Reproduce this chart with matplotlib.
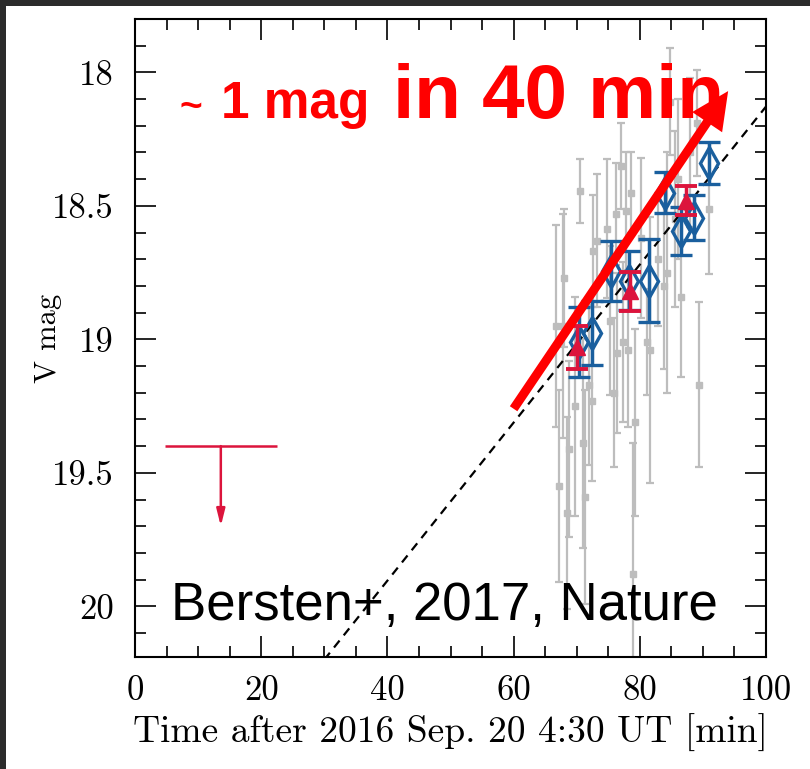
import matplotlib
matplotlib.use('Agg')
import matplotlib.pyplot as plt
from matplotlib.patches import Rectangle, FancyArrowPatch
from matplotlib.ticker import MultipleLocator
import numpy as np

# photometry (time in min, V mag, 1-sigma error)
gray_t = [66.7, 67.8, 67.2, 68.0, 68.4, 68.8, 69.7, 70.5, 71.0, 71.3, 72.0, 72.4,
          72.6, 73.2, 74.8, 75.3, 75.9, 76.3, 76.4, 77.0, 77.3, 77.8, 78.2, 78.6,
          79.0, 79.3, 80.2, 81.1, 81.6, 82.9, 83.9, 84.3, 84.8, 85.6, 86.0, 86.6,
          87.9, 89.0, 89.4, 91.0]
gray_mag = [18.95, 18.95, 19.55, 18.77, 19.65, 19.41, 19.25, 18.445, 19.39, 19.59, 19.17, 19.23,
            18.67, 18.63, 18.585, 18.93, 19.20, 18.53, 19.05, 18.35, 19.01, 18.52, 19.04, 18.45,
            19.88, 19.31, 18.62, 19.01, 19.04, 18.70, 18.80, 18.75, 18.11, 18.55, 18.40, 18.84,
            18.30, 18.19, 19.17, 18.51]
gray_err = [0.38, 0.42, 0.36, 0.26, 0.36, 0.33, 0.41, 0.12, 0.39, 0.40, 0.30, 0.30,
            0.21, 0.25, 0.26, 0.28, 0.28, 0.19, 0.30, 0.16, 0.30, 0.22, 0.29, 0.15,
            0.49, 0.35, 0.30, 0.20, 0.50, 0.25, 0.31, 0.45, 0.20, 0.33, 0.30, 0.30,
            0.28, 0.20, 0.31, 0.245]

blue_t = [70.3, 72.5, 75.4, 78.3, 81.5, 84.0, 86.5, 88.6, 91.0]
blue_mag = [19.01, 18.975, 18.745, 18.78, 18.78, 18.45, 18.595, 18.545, 18.34]
blue_err = [0.13, 0.12, 0.113, 0.11, 0.155, 0.075, 0.09, 0.084, 0.078]

red_t = [70.1, 78.4, 87.4]
red_mag = [19.03, 18.82, 18.48]
red_err = [0.08, 0.073, 0.054]

# upper limit
ul_t = [13.6]
ul_mag = [19.40]
ul_terr = [8.9]

# dashed linear trend
fit_t0, fit_mag0, fit_slope = 30.0, 20.2, -0.0296

# big arrow (start, end) in data units
arrow_t = [60.0, 94.0]
arrow_mag = [19.26, 18.07]

xticks = [0, 20, 40, 60, 80, 100]
yticks = [18, 18.5, 19, 19.5, 20]

crimson = '#dc143c'
blue = '#1a5f9e'
gray = '#bdbdbd'

fig = plt.figure(figsize=(8.1, 7.69), dpi=100)
fig.patch.set_facecolor('#2b2b2b')
fig.add_artist(Rectangle((6 / 810, 0), 1, 1 - 6 / 769, transform=fig.transFigure,
                         facecolor='white', edgecolor='none', zorder=-5))

ax = fig.add_axes([135 / 810, 112 / 769, 631 / 810, 638 / 769])
ax.set_xlim(0, 100)
ax.set_ylim(20.19, 17.8)

# gray points
ax.errorbar(gray_t, gray_mag, yerr=gray_err, fmt='s', ms=4.5, color=gray, ecolor=gray,
            elinewidth=1.6, capsize=3, capthick=1.6, zorder=2)

# trend line
tt = np.array([fit_t0, 100])
ax.plot(tt, fit_mag0 + fit_slope * (tt - fit_t0), ls=(0, (4, 3)), color='black', lw=1.6, zorder=3)

# blue diamonds and red triangles
ax.errorbar(blue_t, blue_mag, yerr=blue_err, fmt='d', ms=16, mfc='none', mec=blue, mew=2.4,
            color=blue, ecolor=blue, elinewidth=2.5, capsize=8, capthick=2.8, zorder=4)
ax.errorbar(red_t, red_mag, yerr=red_err, fmt='^', ms=12, color=crimson, ecolor=crimson,
            elinewidth=2.5, capsize=8, capthick=2.8, zorder=5)

# upper limit
ax.errorbar(ul_t, ul_mag, xerr=ul_terr, fmt='none', ecolor=crimson, elinewidth=1.8, zorder=5)
for t, m in zip(ul_t, ul_mag):
    ax.annotate('', xy=(t, m + 0.3), xytext=(t, m),
                arrowprops=dict(arrowstyle='-|>,head_length=1.0,head_width=0.25',
                                color=crimson, lw=1.8, shrinkA=0, shrinkB=0))

# big red arrow
big = FancyArrowPatch((arrow_t[0], arrow_mag[0]), (arrow_t[1], arrow_mag[1]),
                      arrowstyle='simple,tail_width=0.65,head_width=2.6,head_length=2.7',
                      mutation_scale=10, color='red', lw=0, shrinkA=0, shrinkB=0, zorder=6)
ax.add_patch(big)

ax.text(7.1, 18.17, '~', color='red', fontsize=28, fontweight='bold',
        family='Liberation Sans', va='baseline', zorder=7)
ax.text(13.6, 18.17, '1 mag', color='red', fontsize=37, fontweight='bold',
        family='Liberation Sans', va='baseline', zorder=7)
ax.text(40.9, 18.17, 'in 40 min', color='red', fontsize=55, fontweight='bold',
        family='Liberation Sans', va='baseline', zorder=7)
ax.text(49.0, 20.05, 'Bersten+, 2017, Nature', color='black', fontsize=38,
        family='Liberation Sans', ha='center', va='baseline', zorder=7)

# axes cosmetics
ax.set_xticks(xticks)
ax.set_xticklabels([str(v) for v in xticks], family='cmr10', fontsize=25)
ax.set_yticks(yticks)
ax.set_yticklabels(['18', '18.5', '19', '19.5', '20'], family='cmr10', fontsize=25)
ax.xaxis.set_minor_locator(MultipleLocator(5))
ax.yaxis.set_minor_locator(MultipleLocator(0.1))
ax.tick_params(which='both', direction='in', top=True, right=True, width=1.2, color='black')
ax.tick_params(which='major', length=15)
ax.tick_params(axis='y', which='major', pad=15)
ax.tick_params(axis='x', which='major', pad=13)
ax.tick_params(which='minor', length=8)
for s in ax.spines.values():
    s.set_linewidth(1.5)

ax.set_xlabel('Time after 2016 Sep. 20 4:30 UT [min]', family='cmr10', fontsize=27)
ax.xaxis.set_label_coords(0.5, -0.09)
ax.set_ylabel('V mag', family='cmr10', fontsize=22)
ax.yaxis.set_label_coords(-0.115, 0.5)

fig.savefig('out.png', dpi=100)
